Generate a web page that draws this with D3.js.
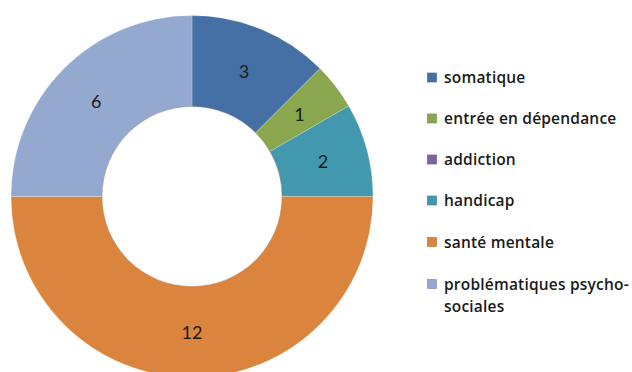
<!DOCTYPE html>
<html>
<head>
<meta charset="utf-8">
<script src="https://cdn.jsdelivr.net/npm/d3@7"></script>
<style>
  html, body { margin: 0; padding: 0; background: #fff; }
  svg { display: block; }
  text { font-variant-ligatures: none; }
</style>
</head>
<body>
<svg id="chart" width="632" height="372"></svg>
<script>
// Répartition des situations par problématique principale
const categories = ["somatique", "entrée en dépendance", "addiction", "handicap", "santé mentale", "problématiques psycho-sociales"];
const values = [3, 1, 0, 2, 12, 6];
const colors = ["#4470A6", "#8AA74F", "#7F62A0", "#4198AF", "#DB843D", "#93A9CF"];
// Legend lines (last entry wraps on two lines)
const legendLines = [["somatique"], ["entrée en dépendance"], ["addiction"], ["handicap"], ["santé mentale"], ["problématiques psycho-", "sociales"]];

const svg = d3.select("#chart");
const cx = 192, cy = 196.5, outerR = 181, innerR = 90;

const data = categories.map((c, i) => ({ name: c, value: values[i], color: colors[i] }));

const pie = d3.pie().value(d => d.value).sort(null);
const arc = d3.arc().innerRadius(innerR).outerRadius(outerR);
const labelArc = d3.arc().innerRadius((innerR + outerR) / 2).outerRadius((innerR + outerR) / 2);

const g = svg.append("g").attr("transform", `translate(${cx},${cy})`);
const arcs = pie(data).filter(d => d.data.value > 0);

g.selectAll("path.slice")
  .data(arcs)
  .enter().append("path")
  .attr("class", "slice")
  .attr("d", arc)
  .attr("fill", d => d.data.color)
  .attr("stroke", "rgba(255,255,255,0.35)")
  .attr("stroke-width", 0.6);

// faint rim around the hole
g.append("circle").attr("r", innerR).attr("fill", "none")
  .attr("stroke", "rgba(120,80,40,0.35)").attr("stroke-width", 0.8);

g.selectAll("text.val")
  .data(arcs)
  .enter().append("text")
  .attr("class", "val")
  .attr("transform", d => `translate(${labelArc.centroid(d)})`)
  .attr("text-anchor", "middle")
  .attr("dominant-baseline", "central")
  .attr("font-family", "Lato, 'Open Sans', sans-serif")
  .attr("font-size", 18)
  .attr("fill", "#1a1a1a")
  .text(d => d.data.value);

// Legend
const legend = svg.append("g");
const rowY = [77.5, 118.5, 159.5, 200.5, 242, 284];
data.forEach((d, i) => {
  const y = rowY[i];
  legend.append("rect")
    .attr("x", 427.5).attr("y", y - 4.5)
    .attr("width", 9).attr("height", 9)
    .attr("fill", d.color)
    .attr("stroke", d3.color(d.color).darker(0.6))
    .attr("stroke-width", 0.6);
  const t = legend.append("text")
    .attr("x", 444).attr("y", y + 5.5)
    .attr("font-family", "'Open Sans', sans-serif")
    .attr("font-size", 15.5)
    .attr("font-weight", 600)
    .attr("letter-spacing", 0.2)
    .attr("fill", "#1a1a1a");
  legendLines[i].forEach((line, j) => {
    t.append("tspan").attr("x", 444).attr("dy", j === 0 ? 0 : 22).text(line);
  });
});
</script>
</body>
</html>
